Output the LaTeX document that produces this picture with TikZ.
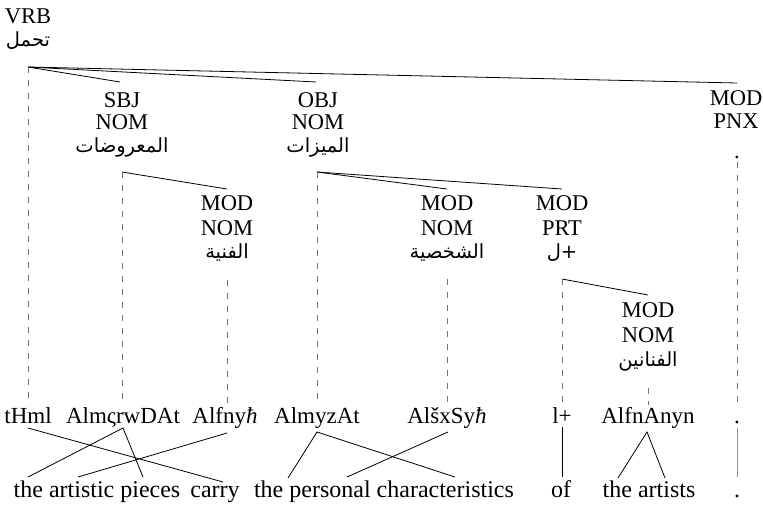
\documentclass[tikz,border=0pt]{standalone}
\usepackage{fontspec}
\setmainfont{Liberation Serif}
\newfontfamily\arabicfont[Script=Arabic]{DejaVu Sans}
\TeXXeTstate=1
\tikzset{
  lab/.style={font=\fontsize{22.5}{24}\selectfont, inner sep=0pt, anchor=base},
  ar/.style={font=\arabicfont\fontsize{19.5}{22}\selectfont, inner sep=0pt, anchor=base},
  word/.style={font=\fontsize{23}{26}\selectfont, inner sep=0pt, anchor=base},
  gloss/.style={font=\fontsize{24}{26}\selectfont, inner sep=0pt, anchor=base},
  tree/.style={line width=0.8pt, black},
  dep/.style={line width=0.9pt, black!55, dash pattern=on 6pt off 7pt},
  gl/.style={line width=0.8pt, black},
  glgray/.style={line width=0.9pt, black!45},
}
\begin{document}
\begin{tikzpicture}[x=1pt,y=-1pt]
\useasboundingbox (0,0) rectangle (763,504);
% ---- root
\node[lab] (vrb1) at (28,23) {VRB};
\node[ar] (vrb2) at (28,46) {\beginR تحمل\endR};
\coordinate (r0) at (28,67);
% ---- SBJ
\node[lab] (sbj1) at (122,107) {SBJ};
\node[lab] (sbj2) at (122,129) {NOM};
\node[ar]  (sbj3) at (122,152) {\beginR المعروضات\endR};
\coordinate (sbjtop) at (120,82);
\coordinate (sbjj) at (122,172);
% ---- OBJ
\node[lab] (obj1) at (318,107) {OBJ};
\node[lab] (obj2) at (318,129) {NOM};
\node[ar]  (obj3) at (318,152) {\beginR الميزات\endR};
\coordinate (objtop) at (316,82);
\coordinate (objj) at (317,172);
% ---- MOD PNX
\node[lab] (pnx1) at (736,105) {MOD};
\node[lab] (pnx2) at (736,128) {PNX};
\node[lab] (pnx3) at (737,158) {.};
\coordinate (pnxtop) at (737,83);
\coordinate (pnxj) at (737,162);
% ---- MOD NOM (fnyh)
\node[lab] (fn1) at (227,210) {MOD};
\node[lab] (fn2) at (227,235) {NOM};
\node[ar]  (fn3) at (227,258) {\beginR الفنية\endR};
\coordinate (fntop) at (227,189);
\coordinate (fnj) at (227,280);
% ---- MOD NOM (shxSyh)
\node[lab] (sx1) at (447,210) {MOD};
\node[lab] (sx2) at (447,235) {NOM};
\node[ar]  (sx3) at (447,258) {\beginR الشخصية\endR};
\coordinate (sxtop) at (447,189);
\coordinate (sxj) at (447,279);
% ---- MOD PRT
\node[lab] (pr1) at (562,210) {MOD};
\node[lab] (pr2) at (562,235) {PRT};
\node[ar]  (pr3) at (562,258) {+ل};
\coordinate (prtop) at (562,189);
\coordinate (prj) at (562,279);
% ---- MOD NOM (fnAnyn)
\node[lab] (fa1) at (648,317) {MOD};
\node[lab] (fa2) at (648,342) {NOM};
\node[ar]  (fa3) at (648,366) {\beginR الفنانين\endR};
\coordinate (fatop) at (648,295);
\coordinate (faj) at (648,388);
% ---- tree lines
\draw[tree] (r0) -- (sbjtop);
\draw[tree] (r0) -- (objtop);
\draw[tree] (r0) -- (pnxtop);
\draw[tree] (sbjj) -- (fntop);
\draw[tree] (objj) -- (sxtop);
\draw[tree] (objj) -- (prtop);
\draw[tree] (prj) -- (fatop);
% ---- words
\node[word] (w1) at (28,423) {tHml};
\node[word] (w2) at (123,423) {AlmςrwDAt};
\node[word] (w3) at (225,423) {Alfny\textit{ħ}};
\node[word] (w4) at (317,423) {AlmyzAt};
\node[word] (w5) at (447,423) {AlšxSy\textit{ħ}};
\node[word] (w6) at (562,423) {l+};
\node[word] (w7) at (648,423) {AlfnAnyn};
\node[word] (w8) at (737,423) {.};
\coordinate (d1) at (28,405);
\coordinate (d2) at (122,405);
\coordinate (d3) at (227,405);
\coordinate (d4) at (317,405);
\coordinate (d5) at (447,405);
\coordinate (d6) at (562,405);
\coordinate (d7) at (648,405);
\coordinate (d8) at (737,405);
% ---- dashed projections
\draw[dep] (r0) -- (d1);
\draw[dep] (sbjj) -- (d2);
\draw[dep] (fnj) -- (d3);
\draw[dep] (objj) -- (d4);
\draw[dep] (sxj) -- (d5);
\draw[dep] (prj) -- (d6);
\draw[dep] (faj) -- (d7);
\draw[dep] (pnxj) -- (d8);
% ---- glosses
\node[gloss] (g1) at (97,497) {the artistic pieces};
\node[gloss] (g2) at (215,497) {carry};
\node[gloss] (g3) at (384,497) {the personal characteristics};
\node[gloss] (g4) at (561,497) {of};
\node[gloss] (g5) at (649,497) {the artists};
\node[gloss] (g6) at (737,497) {.};
% ---- alignment lines
\coordinate (a1) at (28,428);   \coordinate (b1) at (223,482);
\coordinate (a2) at (123,428);  \coordinate (b2a) at (28,477); \coordinate (b2b) at (143,477);
\coordinate (a3) at (227,433);  \coordinate (b3) at (78,477);
\coordinate (a4) at (317,432);  \coordinate (b4a) at (288,478); \coordinate (b4b) at (455,477);
\coordinate (a5) at (448,432);  \coordinate (b5) at (347,477);
\coordinate (a6) at (562,427);  \coordinate (b6) at (562,477);
\coordinate (a7) at (647,432);  \coordinate (b7a) at (618,478); \coordinate (b7b) at (665,478);
\coordinate (a8) at (737,428);  \coordinate (b8) at (737,477);
\draw[gl] (a1) -- (b1);
\draw[gl] (b2a) -- (a2) -- (b2b);
\draw[gl] (a3) -- (b3);
\draw[gl] (b4a) -- (a4) -- (b4b);
\draw[gl] (a5) -- (b5);
\draw[gl] (a6) -- (b6);
\draw[gl] (b7a) -- (a7) -- (b7b);
\draw[glgray] (a8) -- (b8);
\end{tikzpicture}
\end{document}
